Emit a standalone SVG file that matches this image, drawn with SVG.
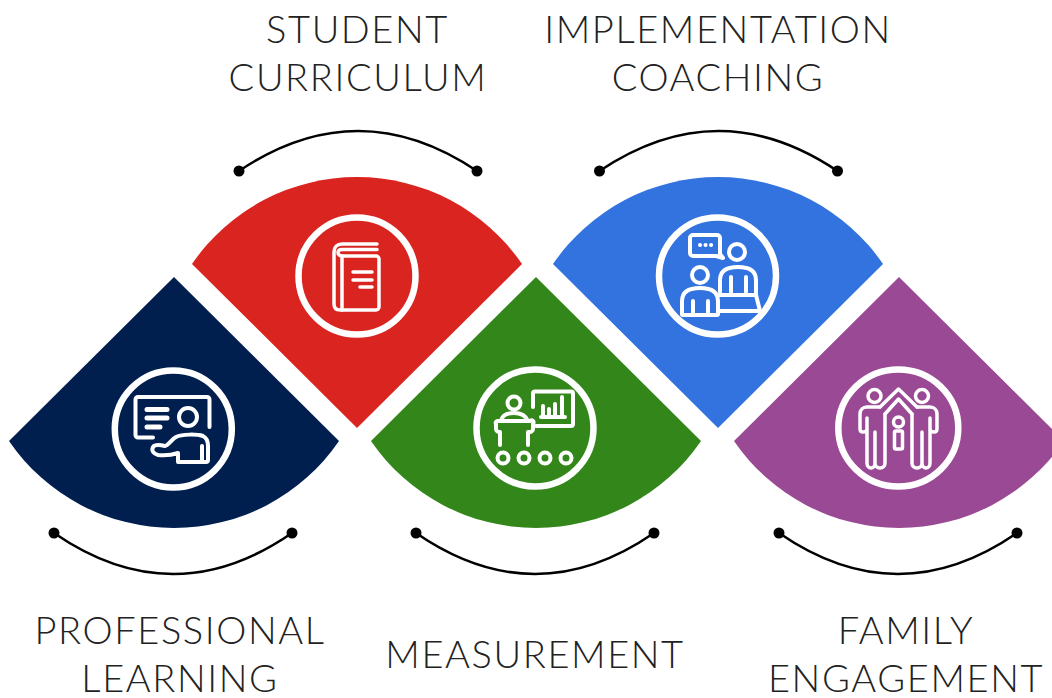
<svg xmlns="http://www.w3.org/2000/svg" width="1052" height="698" viewBox="0 0 1052 698">
<style>
.t{font-family:"Lato","Liberation Sans",sans-serif;font-weight:300;font-size:38px;letter-spacing:1.600px;fill:#222;text-anchor:middle}
.ring{fill:none;stroke:#fff;stroke-width:6.500}
.ic{fill:none;stroke:#fff;stroke-width:4;stroke-linecap:round;stroke-linejoin:round}
.arc{fill:none;stroke:#000;stroke-width:2.500}
</style>
<defs>
<path id="up" d="M-165-164A200 200 0 0 1 165-164L0 0Z"/>
<path id="down" d="M0-164L165 0A200 200 0 0 1-165 0Z"/>
<g id="arcTop"><path class="arc" d="M-119 0Q0-80 119 0"/><circle cx="-119" r="5.500"/><circle cx="119" r="5.500"/></g>
<g id="arcBot"><path class="arc" d="M-119 0Q0 82 119 0"/><circle cx="-119" r="5.500"/><circle cx="119" r="5.500"/></g>
</defs>
<rect width="1052" height="698" fill="#fff"/>
<g id="connectors">
<use href="#arcTop" x="358" y="171"/>
<use href="#arcTop" x="718.500" y="171"/>
<use href="#arcBot" x="173" y="533"/>
<use href="#arcBot" x="535" y="533"/>
<use href="#arcBot" x="898" y="533"/>
</g>
<g id="professional-learning">
<use href="#down" x="174" y="441" fill="#001e4e"/>
<circle class="ring" cx="173.300" cy="429" r="58.500"/>
<g class="ic">
<path d="M153 437.500H138a2.500 2.500 0 0 1-2.500-2.500V399.500a2.500 2.500 0 0 1 2.500-2.500H207a2.500 2.500 0 0 1 2.500 2.500V427"/>
<path stroke-width="5" d="M147 409.500H167M147 418H167M147 427H160"/>
<circle cx="188" cy="417" r="9"/>
<path d="M153 447c2-3 8-2 12-1 3 0 7-7 11-9 6-3 21-3 27-1 4 2 5 5 5 10v14a2 2 0 0 1-2 2H178v-9c-6 2-12 3-20 2-4-1-7-4-5-8ZM202 446v16"/>
</g>
</g>
<g id="student-curriculum">
<use href="#up" x="357" y="428" fill="#da2420"/>
<circle class="ring" cx="357" cy="276" r="58.500"/>
<g class="ic" style="stroke-width:3.500px">
<path d="M377 244H342c-5 0-8 3-8 8V304c0 4 2 6 6 6H376a3 3 0 0 0 3-3V259a3 3 0 0 0-3-3H342c-3 0-4-2-4-3.500s1-3 4-3H377"/>
<path d="M342 256V310M353 272H372M353 280H372M360 287H372"/>
</g>
</g>
<g id="implementation-coaching">
<use href="#up" x="718" y="428" fill="#3373e0"/>
<circle class="ring" cx="717.500" cy="276" r="58.500"/>
<g class="ic">
<path d="M693 235H717a3 3 0 0 1 3 3V254l3 4-7-2H693a3 3 0 0 1-3-3V238a3 3 0 0 1 3-3Z"/>
<path d="M700 245h.1M705.500 245h.1M711 245h.1"/>
<circle cx="737" cy="252" r="8"/>
<circle cx="700" cy="275" r="8"/>
<path d="M720 292V280c0-9 6-13 18-13s18 4 18 13V295M731 277V292M746 277V292"/>
<path d="M682 314V301c0-9 6-13 18-13s18 4 18 13V314a1 1 0 0 1-1 1H683a1 1 0 0 1-1-1ZM693 301V314M708 301V314"/>
<path d="M719 295H756L760 311H719"/>
</g>
</g>
<g id="measurement">
<use href="#down" x="536" y="441" fill="#33871a"/>
<circle class="ring" cx="535" cy="428" r="58.500"/>
<g class="ic">
<circle cx="514" cy="403" r="6.500"/>
<path d="M501 421c1-5 5-8 13-8s12 3 14 8M498 421H530a2 2 0 0 1 3 3v5c0 2-2 3-3 3h-2v13M498 421a2 2 0 0 0-2 3v5c0 2 2 3 3 3h1v13"/>
<path d="M533 407V393.500a2 2 0 0 1 2-2H571a2 2 0 0 1 2 2V424a2 2 0 0 1-2 2H536M541 417H565M543 416V406M549 416V409M555 416V404M562 416V397"/>
<circle cx="503" cy="458" r="5.500"/><circle cx="524" cy="458" r="5.500"/><circle cx="545" cy="458" r="5.500"/><circle cx="566" cy="458" r="5.500"/>
</g>
</g>
<g id="family-engagement">
<use href="#down" x="899" y="441" fill="#9a4994"/>
<ellipse class="ring" cx="898.300" cy="428" rx="60" ry="58.500"/>
<g class="ic" style="stroke-width:3.500px">
<circle cx="874.500" cy="396" r="6.500"/><circle cx="922" cy="396" r="6.500"/>
<circle cx="898.500" cy="422" r="5"/>
<rect x="894.500" y="431" width="8" height="18" rx="1.500"/>
<path d="M880 407L898.500 389L917 407"/>
<path d="M885 414L898.500 399L912 414"/>
<path d="M885 414V463c0 3-2 5-5 5s-5-2-5-5V432M875 432V463c0 3-2 5-4 5s-4-2-4-5V418M880 407H867c-4 0-7 3-7 7V429c0 2 1 3 3 3s4-1 4-3"/>
<path d="M912 414V463c0 3 2 5 5 5s5-2 5-5V432M922 432V463c0 3 2 5 4 5s4-2 4-5V418M917 407H930c4 0 7 3 7 7V429c0 2-1 3-3 3s-4-1-4-3"/>
</g>
</g>
<g id="labels">
<text class="t" x="357.500" y="43">STUDENT</text>
<text class="t" x="358" y="91">CURRICULUM</text>
<text class="t" x="718" y="43">IMPLEMENTATION</text>
<text class="t" x="718" y="91">COACHING</text>
<text class="t" x="180" y="644">PROFESSIONAL</text>
<text class="t" x="180" y="692">LEARNING</text>
<text class="t" x="535" y="668">MEASUREMENT</text>
<text class="t" x="906" y="644">FAMILY</text>
<text class="t" x="906" y="692">ENGAGEMENT</text>
</g>
</svg>
